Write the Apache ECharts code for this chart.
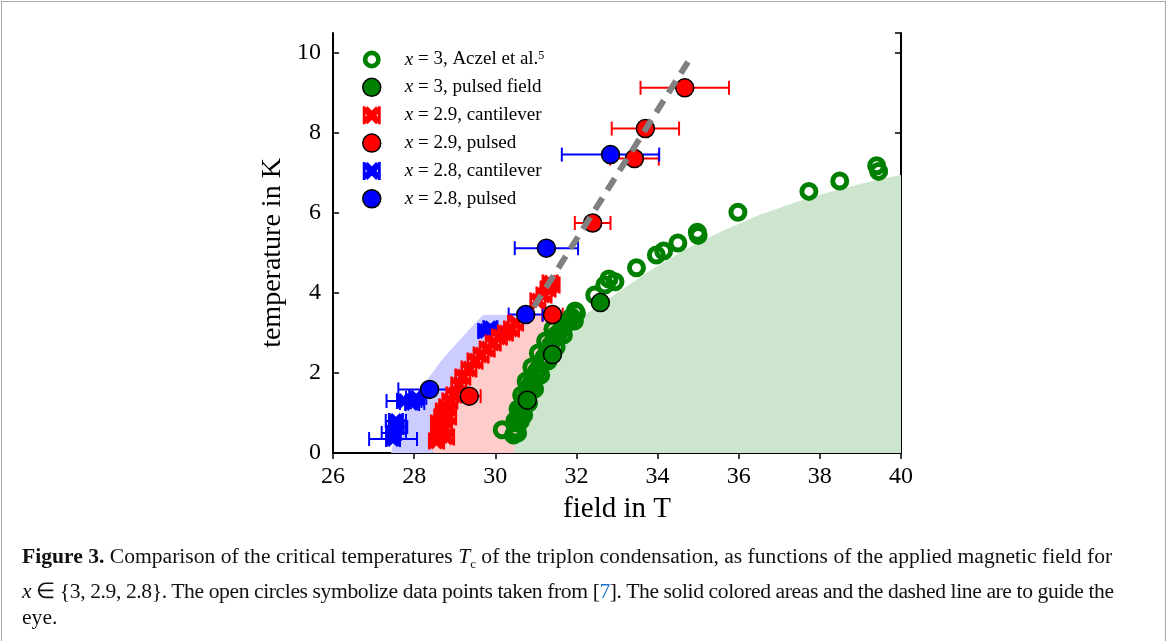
<!DOCTYPE html>
<html>
<head>
<meta charset="utf-8">
<script src="https://cdn.jsdelivr.net/npm/echarts@6/dist/echarts.min.js"></script>
<style>
html,body{margin:0;padding:0;background:#fff;width:1167px;height:641px;overflow:hidden;}
#frame{position:absolute;left:1px;top:1px;width:1163px;height:700px;border:1px solid #a8a8a8;}
#chart{position:absolute;left:0;top:0;width:1167px;height:641px;}
#caption{position:absolute;left:22px;top:543px;font-family:"Liberation Serif",serif;font-size:21.6px;line-height:26.5px;color:#111;white-space:nowrap;}
#caption b{font-weight:bold;}
#caption .ref{color:#1a73c8;}
</style>
</head>
<body>
<div id="frame"></div>
<div id="chart"></div>
<div id="caption">
<b>Figure 3.</b> Comparison of the critical temperatures <i>T</i><sub style="font-size:13px">c</sub> of the triplon condensation, as functions of the applied magnetic field for<br>
<span style="letter-spacing:-0.4px"><i>x</i> ∈ {3, 2.9, 2.8}. The open circles symbolize data points taken from [<span class="ref">7</span>]. The solid colored areas and the dashed line are to guide the</span><br>
eye.
</div>
<script>
// ---------------- data ----------------
const xRange = [26, 40];
const yRange = [0, 10.5];
const tickStep = 2;

const seriesNames = ['aczel', 'pulsed3', 'cant29', 'pulsed29', 'cant28', 'pulsed28'];
const legendLabels = [
  '{i|x} = 3, Aczel et al.{s|5}',
  '{i|x} = 3, pulsed field',
  '{i|x} = 2.9, cantilever',
  '{i|x} = 2.9, pulsed',
  '{i|x} = 2.8, cantilever',
  '{i|x} = 2.8, pulsed'
];

// x = 3, Aczel et al. (open circles)  [field, temperature]
const aczelPoints = [
  [30.17,0.58],
  [30.45,0.45],[30.5,0.6],[30.54,0.75],[30.59,0.9],[30.64,1.05],[30.69,1.2],[30.74,1.35],[30.8,1.5],
  [30.86,1.65],[30.92,1.8],[30.99,1.95],[31.06,2.1],[31.14,2.25],[31.21,2.4],[31.28,2.55],[31.36,2.7],
  [31.45,2.85],[31.56,3.0],[31.64,3.1],[31.72,3.2],[31.8,3.3],[31.88,3.4],[31.97,3.55],
  [30.55,0.5],[30.62,0.8],[30.66,1.15],[30.78,1.4],[30.88,1.75],[31.02,2.05],[31.18,2.35],[31.33,2.6],
  [31.5,2.95],[31.95,3.3],[32.0,3.5],
  [30.48,0.8],[30.56,1.1],[30.65,1.45],[30.76,1.8],[30.9,2.15],[31.06,2.5],[31.24,2.8],[31.42,3.1],
  [30.7,0.95],[30.82,1.25],[30.97,1.6],[31.12,1.95],[31.3,2.3],[31.5,2.65],[31.68,2.95],
  [32.45,3.95],[32.7,4.2],[32.8,4.35],[32.95,4.28],[33.48,4.63],[33.97,4.95],[34.15,5.05],[34.5,5.25],
  [34.98,5.52],[35.0,5.44],[35.98,6.02],[37.73,6.54],[38.49,6.8],[39.4,7.18],[39.45,7.04]
];

// x = 3, pulsed field
const pulsed3Field = [30.79, 31.41, 32.59];
const pulsed3Temp  = [1.32, 2.46, 3.76];

// x = 2.9, cantilever
const cant29Points = [
  [28.55,0.3],[28.6,0.45],[28.8,0.4],[28.62,0.6],[28.75,0.6],[28.6,0.75],[28.68,0.9],[28.85,0.9],
  [28.72,1.05],[28.8,1.15],[28.88,1.3],[28.98,1.45],[29.1,1.7],[29.2,1.9],[29.35,2.1],[29.5,2.3],
  [29.65,2.45],[29.8,2.6],[29.95,2.75],[30.1,2.9],[30.25,3.0],[30.4,3.1],[30.5,3.25],
  [31.05,3.8],[31.2,3.95],[31.3,4.1],[31.4,4.2],[31.35,4.25]
];

// x = 2.9, pulsed
const pulsed29Field = [29.36, 31.41, 32.4, 33.43, 33.7, 34.67];
const pulsed29Temp  = [1.42, 3.46, 5.75, 7.36, 8.11, 9.13];
const pulsed29Err   = [0.28, 0.25, 0.44, 0.6, 0.83, 1.09];

// x = 2.8, cantilever [field, temperature, field error]
const cant28Points = [
  [27.48,0.35,0.59],[27.5,0.5,0.3],[27.57,0.65,0.26],[27.55,0.8,0.25],
  [27.75,1.3,0.43],[27.95,1.25,0.3],[28.05,1.38,0.25],[29.75,3.05,0.15],[29.88,3.12,0.15]
];

// x = 2.8, pulsed
const pulsed28Field = [28.38, 30.75, 31.26, 32.84];
const pulsed28Temp  = [1.59, 3.46, 5.12, 7.46];
const pulsed28Err   = [0.77, 0.42, 0.78, 1.2];

// guide line
const guideLine = [[30.95,3.65],[34.75,9.78]];

// guide areas (boundaries)
const areaTop = 3.45;
const blueEdge = [[27.43,0],[27.55,0.5],[27.75,1.0],[28.0,1.4],[28.3,1.8],[28.7,2.35],[29.1,2.8],[29.55,3.3],[29.7,3.45]];
const redEdge  = [[28.45,0],[28.6,0.6],[28.8,1.2],[29.05,1.7],[29.4,2.25],[29.8,2.75],[30.2,3.1],[30.6,3.45]];
const greenEdge = [[30.47,0],[30.52,0.5],[30.62,1.0],[30.78,1.5],[31.0,2.0],[31.3,2.5],[31.7,3.0],[32.2,3.45],
  [33.0,4.0],[33.8,4.55],[34.7,5.1],[35.6,5.55],[36.5,5.95],[37.5,6.3],[38.5,6.6],[39.3,6.8],[40,6.95]];

// ---------------- build ----------------
const GREEN = '#008000', RED = '#ff0000', BLUE = '#0000ff';
const BOWTIE = 'path://M0,0L1.6,0L1.6,10L0,10Z M8.4,0L10,0L10,10L8.4,10Z M0,2.6L2.6,0L10,7.4L7.4,10Z M7.4,0L10,2.6L2.6,10L0,7.4Z';
const RING = 'path://M0,5A5,5 0 1,0 10,5A5,5 0 1,0 0,5Z M2.6,5A2.4,2.4 0 1,1 7.4,5A2.4,2.4 0 1,1 2.6,5Z';
const SERIF = '"Liberation Serif", "DejaVu Serif", serif';

const greenLow = greenEdge.filter(p => p[1] <= areaTop);
const regions = [
  { color: '#ccccff', pts: blueEdge.concat(redEdge.slice().reverse()) },
  { color: '#ffcccc', pts: redEdge.concat(greenLow.slice().reverse()) },
  { color: '#cce5cc', pts: greenEdge.concat([[xRange[1], 0]]) }
];

function zip(a, b, c) { return a.map((v, i) => c ? [v, b[i], c[i]] : [v, b[i]]); }

function errRender(color) {
  return function (params, api) {
    const x = api.value(0), y = api.value(1), e = api.value(2);
    const p1 = api.coord([x - e, y]), p2 = api.coord([x + e, y]);
    const h = 7, st = { stroke: color, lineWidth: 2 };
    return { type: 'group', children: [
      { type: 'line', shape: { x1: p1[0], y1: p1[1], x2: p2[0], y2: p2[1] }, style: st },
      { type: 'line', shape: { x1: p1[0], y1: p1[1] - h, x2: p1[0], y2: p1[1] + h }, style: st },
      { type: 'line', shape: { x1: p2[0], y1: p2[1] - h, x2: p2[0], y2: p2[1] + h }, style: st }
    ]};
  };
}

const axisCommon = {
  axisLine: { show: true, lineStyle: { color: '#000', width: 2 } },
  axisTick: { show: true, inside: true, length: 6, lineStyle: { color: '#000', width: 1.5 } },
  splitLine: { show: false }
};

const chart = echarts.init(document.getElementById('chart'), null, { renderer: 'canvas' });
const option = {
  animation: false,
  backgroundColor: 'transparent',
  grid: { left: 333, right: 266, top: 33, bottom: 188 },
  xAxis: [
    Object.assign({ type: 'value', min: xRange[0], max: xRange[1], interval: tickStep, position: 'bottom',
      axisLabel: { color: '#000', fontSize: 24, fontFamily: SERIF, margin: 12 },
      name: 'field in T', nameLocation: 'middle', nameGap: 42,
      nameTextStyle: { color: '#000', fontSize: 29, fontFamily: SERIF } }, axisCommon),
    Object.assign({ type: 'value', min: xRange[0], max: xRange[1], interval: tickStep, position: 'top',
      axisLabel: { show: false } }, axisCommon)
  ],
  yAxis: [
    Object.assign({ type: 'value', min: yRange[0], max: yRange[1], interval: tickStep, position: 'left',
      axisLabel: { color: '#000', fontSize: 24, fontFamily: SERIF, margin: 12, showMaxLabel: false },
      name: 'temperature in K', nameLocation: 'middle', nameGap: 46,
      nameTextStyle: { color: '#000', fontSize: 28, fontFamily: SERIF, padding: [0, 20, 0, 0] } }, axisCommon),
    Object.assign({ type: 'value', min: yRange[0], max: yRange[1], interval: tickStep, position: 'right',
      axisLabel: { show: false } }, axisCommon)
  ],
  legend: {
    orient: 'vertical', left: 357, top: 45, itemWidth: 18, itemHeight: 18, itemGap: 8.6,
    selectedMode: false,
    formatter: function (name) { return legendLabels[seriesNames.indexOf(name)]; },
    textStyle: { color: '#000', fontSize: 19, fontFamily: SERIF, lineHeight: 19, padding: [0, 0, 0, 19],
      rich: {
        i: { fontStyle: 'italic', fontSize: 19, fontFamily: SERIF },
        s: { fontSize: 12, fontFamily: SERIF, verticalAlign: 'top', padding: [0, 0, 9, 0] }
      } },
    data: [
      { name: 'aczel', icon: RING, itemStyle: { color: GREEN, borderWidth: 0 } },
      { name: 'pulsed3', icon: 'circle', itemStyle: { color: GREEN, borderColor: '#000', borderWidth: 1.5 } },
      { name: 'cant29', icon: BOWTIE, itemStyle: { color: RED, borderWidth: 0 } },
      { name: 'pulsed29', icon: 'circle', itemStyle: { color: RED, borderColor: '#000', borderWidth: 1.5 } },
      { name: 'cant28', icon: BOWTIE, itemStyle: { color: BLUE, borderWidth: 0 } },
      { name: 'pulsed28', icon: 'circle', itemStyle: { color: BLUE, borderColor: '#000', borderWidth: 1.5 } }
    ]
  },
  series: [
    { type: 'custom', name: 'areas', silent: true,
      data: regions.map((r, i) => [30, 1, i]),
      renderItem: function (params, api) {
        const r = regions[params.dataIndex];
        return { type: 'polygon', shape: { points: r.pts.map(p => api.coord(p)), smooth: 0 }, style: { fill: r.color } };
      } },
    { type: 'scatter', name: 'aczel', data: aczelPoints, symbol: 'circle', symbolSize: 14,
      itemStyle: { color: 'rgba(0,0,0,0)', borderColor: GREEN, borderWidth: 5, opacity: 1 } },
    { type: 'scatter', name: 'pulsed3', data: zip(pulsed3Field, pulsed3Temp), symbol: 'circle', symbolSize: 18,
      itemStyle: { color: GREEN, borderColor: '#000', borderWidth: 1.5, opacity: 1 } },
    { type: 'custom', name: 'cant28err', data: cant28Points, renderItem: errRender(BLUE) },
    { type: 'scatter', name: 'cant28', data: cant28Points.map(p => [p[0], p[1]]), symbol: BOWTIE, symbolSize: 16,
      itemStyle: { color: BLUE, opacity: 1 } },
    { type: 'scatter', name: 'cant29', data: cant29Points, symbol: BOWTIE, symbolSize: 17,
      itemStyle: { color: RED, opacity: 1 } },
    { type: 'line', name: 'guide', data: guideLine, symbol: 'none', silent: true,
      lineStyle: { color: '#808080', width: 6, type: [14, 9], cap: 'butt' } },
    { type: 'custom', name: 'pulsed29err', data: zip(pulsed29Field, pulsed29Temp, pulsed29Err), renderItem: errRender(RED) },
    { type: 'scatter', name: 'pulsed29', data: zip(pulsed29Field, pulsed29Temp), symbol: 'circle', symbolSize: 18,
      itemStyle: { color: RED, borderColor: '#000', borderWidth: 1.5, opacity: 1 } },
    { type: 'custom', name: 'pulsed28err', data: zip(pulsed28Field, pulsed28Temp, pulsed28Err), renderItem: errRender(BLUE) },
    { type: 'scatter', name: 'pulsed28', data: zip(pulsed28Field, pulsed28Temp), symbol: 'circle', symbolSize: 18,
      itemStyle: { color: BLUE, borderColor: '#000', borderWidth: 1.5, opacity: 1 } }
  ]
};
chart.setOption(option);
</script>
</body>
</html>
